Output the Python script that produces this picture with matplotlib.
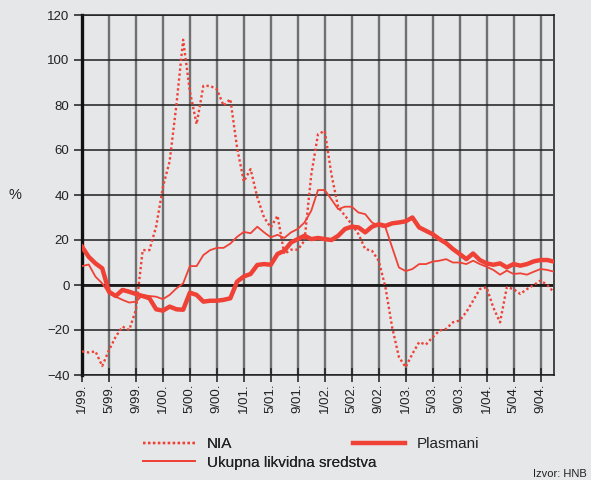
import numpy as np
import matplotlib
matplotlib.use("Agg")
from matplotlib import pyplot as plt

plt.rcParams['font.family'] = ['Liberation Sans', 'DejaVu Sans']

# Monthly growth rates, 1/99 .. 11/04
nia = [-29.5, -30, -29.5, -36, -29, -23, -18.5, -20, -11, 15.5,
       15.5, 26, 43.5, 55, 80, 109, 86, 71.5, 88.5, 88.5,
       87, 79.7, 82.6, 61, 46, 51.5, 39, 30, 25.6, 30.8,
       13.8, 15.7, 15.7, 19.7, 49, 67, 68.5, 49, 34.5, 30.8,
       27, 22.6, 16, 15.2, 10.8, -1, -18.8, -32, -36.5, -30.6,
       -25.4, -26.5, -23.2, -20.3, -19.5, -16.6, -15.8, -12, -7, -1.8,
       -1, -10, -16.6, -1, -1.8, -4, -1.8, 0, 2, 0, -3.3]
ukupna = [8.4, 9.1, 3.7, 0.7, -3.7, -5.2, -6.6, -7.8, -7.4, -4.4,
          -4.9, -5.2, -6.3, -4.4, -1.5, 0.7, 8.4, 8.4, 13.3, 15.5,
          16.5, 16.5, 18.4, 21.4, 23.6, 23, 25.9, 23.4, 21.2, 22.3,
          20.9, 23.4, 24.9, 27.8, 33, 42.2, 42.2, 38, 33.7, 34.8,
          34.8, 32.2, 31.5, 27.8, 26.3, 25.6, 16.7, 7.8, 6.2, 7.1,
          9.3, 9.3, 10.4, 10.8, 11.5, 10, 10, 9.3, 10.8, 9.3,
          8.1, 6.7, 4.6, 6.4, 4.9, 5.2, 4.6, 5.9, 7.1, 6.7, 5.9]
plasmani = [17, 12.5, 9.6, 7.4, -3, -4.9, -2.2, -3, -4, -4.9,
            -5.9, -10.8, -11.4, -9.6, -10.8, -11, -3.4, -4.4, -7.4, -7,
            -7, -6.6, -5.9, 1.5, 3.8, 4.9, 8.9, 9.3, 9, 13.8,
            15.2, 18.9, 20.4, 21.9, 20.4, 20.9, 20.4, 20, 21.9, 24.9,
            25.9, 25.6, 23.4, 25.9, 27, 26.3, 27.4, 27.8, 28.3, 30,
            25.6, 24.1, 22.6, 20.4, 18.6, 16, 13.8, 11.5, 14, 11.1,
            9.6, 9, 9.6, 7.8, 9.3, 8.6, 9.3, 10.5, 11.1, 11.1, 10.4]
tick_labels = ["1/99.", "5/99.", "9/99.", "1/00.", "5/00.", "9/00.",
               "1/01.", "5/01.", "9/01.", "1/02.", "5/02.", "9/02.",
               "1/03.", "5/03.", "9/03.", "1/04.", "5/04.", "9/04."]

red = '#ef4136'
bg = '#e6e7e9'
months = np.arange(len(nia))

fig = plt.figure(figsize=(5.91, 4.8), dpi=100, facecolor=bg)
ax = fig.add_axes([82 / 591, 1 - 375 / 480, 472 / 591, 360 / 480])
ax.set_facecolor(bg)

# grid
for m in range(4, 70, 4):
    ax.axvline(m, color='#707070', lw=1.7, zorder=1)
for v in range(-40, 121, 20):
    ax.axhline(v, color='#1e1e1e', lw=1.1, zorder=1)
ax.axhline(0, color='#1a1a1a', lw=2.0, zorder=2)

l1, = ax.plot(months, nia, color=red, lw=1.7, ls=(0, (1, 1.1)), zorder=3, label='NIA')
l2, = ax.plot(months, ukupna, color=red, lw=1.3, zorder=3, label='Ukupna likvidna sredstva')
l3, = ax.plot(months, plasmani, color=red, lw=3.2, zorder=4, label='Plasmani')

ax.set_xlim(0, 70)
ax.set_ylim(-40, 120)
ax.set_xticks(np.arange(0, 69, 4))
ax.set_xticklabels(tick_labels, rotation=90, fontsize=9.5, color='#222222')
ax.set_yticks(range(-40, 121, 20))
ax.set_yticklabels([str(v) if v >= 0 else '\u2212' + str(-v) for v in range(-40, 121, 20)],
                   fontsize=9.5, color='#222222')
ax.tick_params(axis='y', length=6, width=1.1, color='#1e1e1e', pad=3)
ax.tick_params(axis='x', direction='inout', length=10, width=1.1, color='#1e1e1e', pad=1)

ax.spines['left'].set_linewidth(2.4)
ax.spines['left'].set_color('#111111')
ax.spines['right'].set_linewidth(1.4)
ax.spines['right'].set_color('#444444')
ax.spines['top'].set_linewidth(1.1)
ax.spines['top'].set_color('#1e1e1e')
ax.spines['bottom'].set_linewidth(1.1)
ax.spines['bottom'].set_color('#1e1e1e')

fig.text(15 / 591, 1 - 195 / 480, '%', fontsize=10.5, color='#222222', ha='center', va='center')

leg1 = fig.legend(handles=[l1, l2], loc='upper left', bbox_to_anchor=(137 / 591, 1 - 431 / 480),
                  frameon=False, fontsize=11, handlelength=3.4, handletextpad=0.75,
                  labelspacing=0.3, borderaxespad=0)
fig.legend(handles=[l3], loc='upper left', bbox_to_anchor=(347 / 591, 1 - 431 / 480),
           frameon=False, fontsize=11, handlelength=3.4, handletextpad=0.75, borderaxespad=0)
fig.add_artist(leg1)
for leg in fig.legends:
    for t in leg.get_texts():
        t.set_color('#222222')

fig.text(1 - 4 / 591, 1 / 480, 'Izvor: HNB', fontsize=8, color='#222222', ha='right', va='bottom')

fig.savefig('out.png', dpi=100, facecolor=bg)
